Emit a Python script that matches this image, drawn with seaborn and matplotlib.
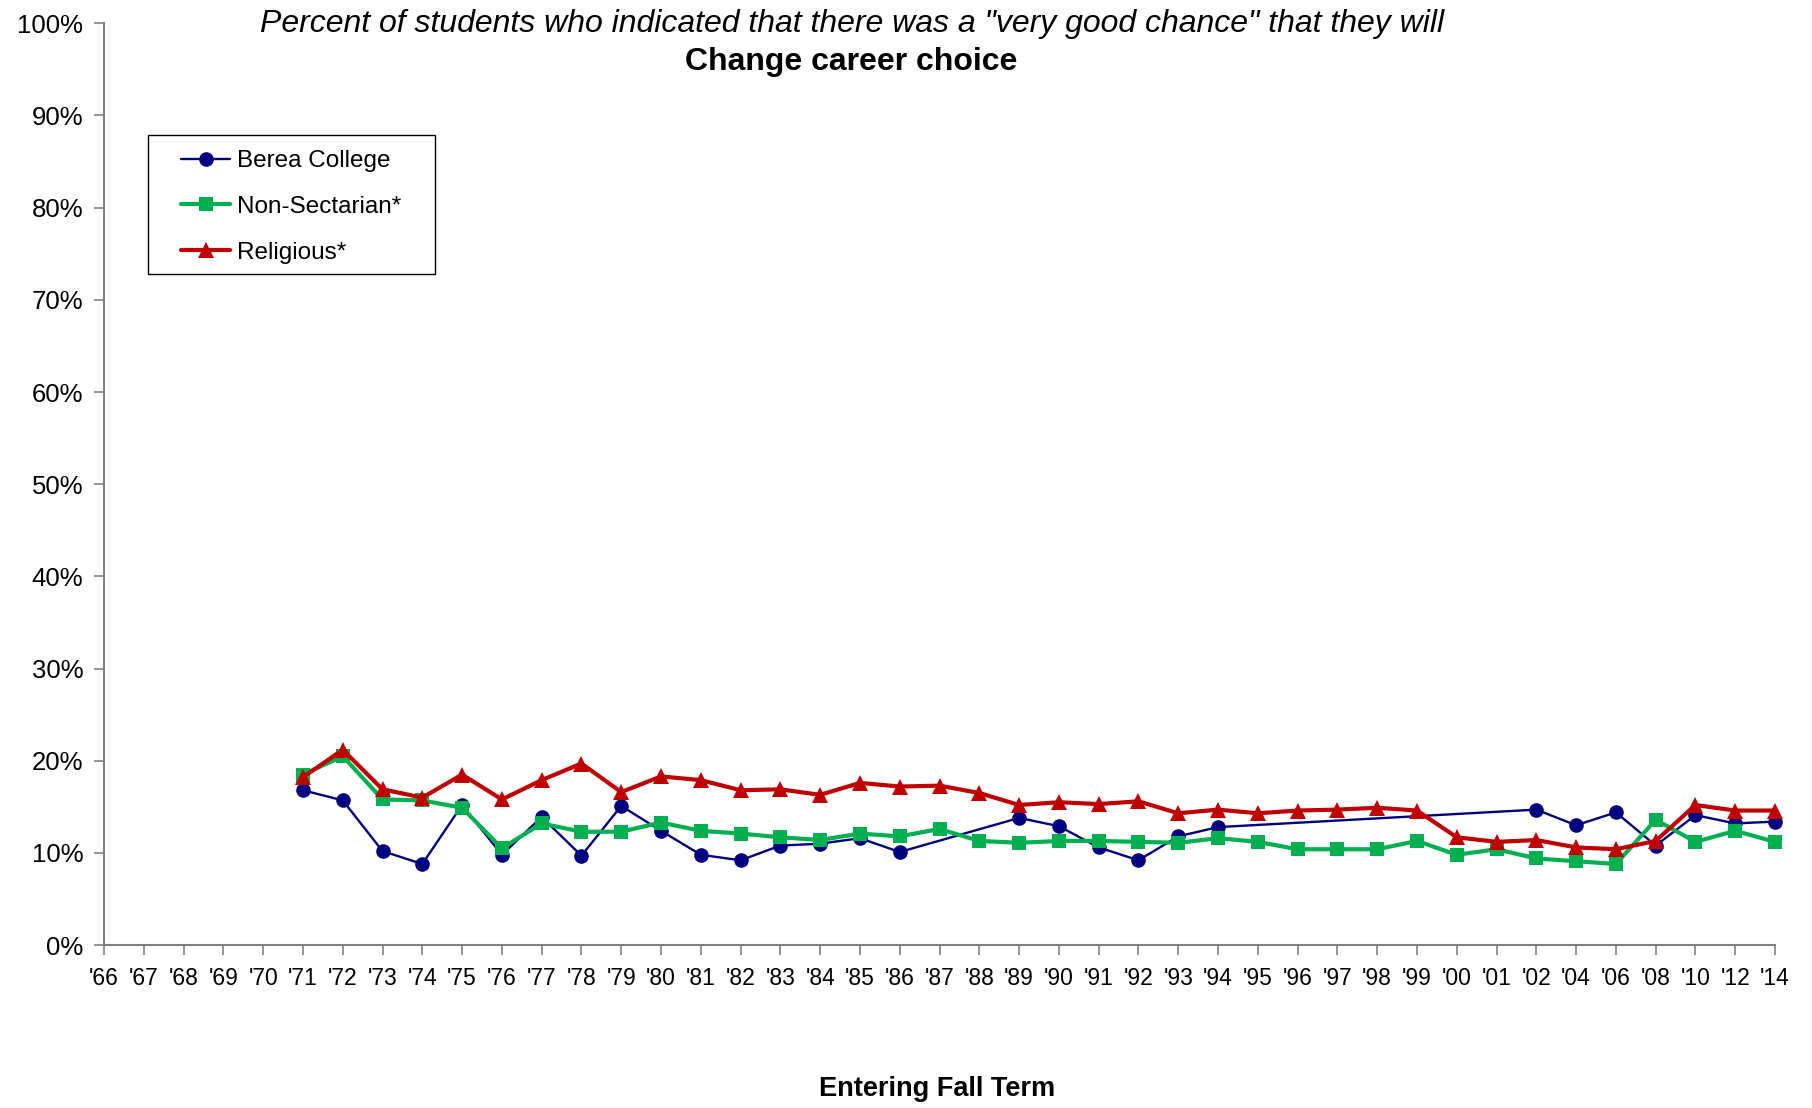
import numpy as np
import pandas as pd
import matplotlib
matplotlib.use("Agg")
import matplotlib.pyplot as plt
from matplotlib.patches import Rectangle
import seaborn as sns

# -------------------- DATOS --------------------
years = ["'66", "'67", "'68", "'69", "'70", "'71", "'72", "'73", "'74", "'75",
         "'76", "'77", "'78", "'79", "'80", "'81", "'82", "'83", "'84", "'85",
         "'86", "'87", "'88", "'89", "'90", "'91", "'92", "'93", "'94", "'95",
         "'96", "'97", "'98", "'99", "'00", "'01", "'02", "'04", "'06", "'08",
         "'10", "'12", "'14"]

nan = np.nan
berea = [nan, nan, nan, nan, nan, 16.8, 15.7, 10.2, 8.8, 15.2,
         9.8, 13.9, 9.7, 15.1, 12.4, 9.8, 9.2, 10.8, 11.0, 11.6,
         10.1, nan, nan, 13.8, 12.9, 10.6, 9.2, 11.8, 12.8, nan,
         nan, nan, nan, nan, nan, nan, 14.7, 13.0, 14.4, 10.8,
         14.1, 13.2, 13.4]
non_sectarian = [nan, nan, nan, nan, nan, 18.5, 20.5, 15.8, 15.7, 14.9,
                 10.5, 13.2, 12.3, 12.3, 13.3, 12.4, 12.1, 11.7, 11.4, 12.1,
                 11.8, 12.6, 11.3, 11.1, 11.3, 11.3, 11.2, 11.1, 11.6, 11.2,
                 10.4, 10.4, 10.4, 11.3, 9.8, 10.4, 9.4, 9.1, 8.8, 13.6,
                 11.2, 12.4, 11.2]
religious = [nan, nan, nan, nan, nan, 18.2, 21.2, 16.9, 16.0, 18.5,
             15.8, 17.9, 19.7, 16.6, 18.3, 17.9, 16.8, 16.9, 16.3, 17.6,
             17.2, 17.3, 16.5, 15.2, 15.5, 15.3, 15.6, 14.3, 14.7, 14.3,
             14.6, 14.7, 14.9, 14.6, 11.7, 11.2, 11.4, 10.6, 10.4, 11.3,
             15.2, 14.6, 14.6]

series_names = ["Berea College", "Non-Sectarian*", "Religious*"]

# -------------------- ESTILO --------------------
sns.set_style("white")
plt.rcParams['font.family'] = ['Liberation Sans', 'DejaVu Sans']
plt.rcParams['text.color'] = 'black'
plt.rcParams['xtick.labelcolor'] = 'black'
plt.rcParams['ytick.labelcolor'] = 'black'

pos = np.arange(len(years))
df = pd.DataFrame({"pos": pos, series_names[0]: berea,
                   series_names[1]: non_sectarian, series_names[2]: religious})

fig = plt.figure(figsize=(18.12, 11.08), dpi=100)
ax = fig.add_axes([0.0574, 0.147, 0.9222, 0.832])

estilos = {
    "Berea College": dict(color="#000080", marker="o", lw=1.7, ms=10.5),
    "Non-Sectarian*": dict(color="#00B050", marker="s", lw=3.0, ms=10),
    "Religious*": dict(color="#C00000", marker="^", lw=3.0, ms=11),
}

for nombre in series_names:
    e = estilos[nombre]
    sns.lineplot(data=df, x="pos", y=nombre, ax=ax, color=e["color"],
                 marker=e["marker"], linewidth=e["lw"], markersize=e["ms"],
                 markeredgewidth=0, label=nombre, clip_on=False)

ax.set_xlim(0, len(years) - 1)
ax.set_ylim(0, 100)
ax.set_xticks(pos)
ax.set_xticklabels(years, fontsize=16.5)
ax.set_yticks(np.arange(0, 101, 10))
ax.set_yticklabels([f"{v}%" for v in range(0, 101, 10)], fontsize=18.5)
ax.tick_params(axis='x', direction='out', length=7, width=1.2, color='#808080',
               labelcolor='black', pad=9, bottom=True)
ax.tick_params(axis='y', direction='out', length=7, width=1.2, color='#808080',
               labelcolor='black', pad=8, left=True)
for s in ['top', 'right']:
    ax.spines[s].set_visible(False)
for s in ['left', 'bottom']:
    ax.spines[s].set_color('#808080')
    ax.spines[s].set_linewidth(1.5)

ax.set_xlabel("")
ax.set_ylabel("")

# leyenda sin marco + recuadro propio (relleno asimétrico como en Excel)
leg = ax.legend(loc='upper left', bbox_to_anchor=(0.0463, 0.8625), fontsize=17.5,
                frameon=False, handlelength=2.0, handletextpad=0.3,
                borderpad=0, labelspacing=0.98, borderaxespad=0)
for t in leg.get_texts():
    t.set_color('black')
ax.add_patch(Rectangle((0.0263, 0.7277), 0.1717, 0.1508, transform=ax.transAxes,
                       fill=False, edgecolor='black', linewidth=1.0, zorder=5))

fig.text(0.470, 0.978, 'Percent of students who indicated that there was a "very good chance" that they will',
         ha='center', va='center', fontsize=23, style='italic', color='black')
fig.text(0.470, 0.944, 'Change career choice', ha='center', va='center',
         fontsize=23, weight='bold', color='black')
fig.text(0.517, 0.017, 'Entering Fall Term', ha='center', va='center',
         fontsize=19.5, weight='bold', color='black')

fig.savefig("out.png", dpi=100)
